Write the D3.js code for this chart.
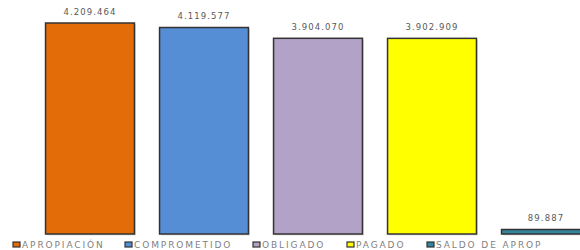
<!DOCTYPE html>
<html>
<head>
<meta charset="utf-8">
<script src="https://cdn.jsdelivr.net/npm/d3@7"></script>
<style>
  body { margin: 0; background: #fff; }
  text { font-family: "DejaVu Sans", Verdana, sans-serif; }
</style>
</head>
<body>
<div id="chart"></div>
<script>
// chart data
var categories = ["APROPIACIÓN", "COMPROMETIDO", "OBLIGADO", "PAGADO", "SALDO DE APROP"];
var values = [4209464, 4119577, 3904070, 3902909, 89887];
var valueLabels = ["4.209.464", "4.119.577", "3.904.070", "3.902.909", "89.887"];
var colors = ["#E36C09", "#558ED5", "#B2A2C7", "#FFFF00", "#31859C"];

var svgWidth = 580;
var svgHeight = 250;

var svg = d3.select("#chart")
  .append("svg")
  .attr("width", svgWidth)
  .attr("height", svgHeight);

// x scale: bars step ~114px, first bar starts at ~45
var xScale = d3.scaleBand()
  .domain(categories)
  .range([33, 603])
  .paddingInner(0.22)
  .paddingOuter(0.11);

var yScale = d3.scaleLinear()
  .domain([0, d3.max(values)])
  .range([234, 23]);

var data = categories.map(function(c, i) {
  return { cat: c, value: values[i], label: valueLabels[i], color: colors[i] };
});

// soft shadow behind bars
svg.append("g").selectAll("rect")
  .data(data)
  .enter()
  .append("rect")
  .attr("x", d => xScale(d.cat) + 1.5)
  .attr("y", d => yScale(d.value) + 1.5)
  .attr("width", xScale.bandwidth())
  .attr("height", d => yScale(0) - yScale(d.value))
  .attr("fill", "#bbb")
  .attr("opacity", 0.5);

// bars
svg.append("g").selectAll("rect")
  .data(data)
  .enter()
  .append("rect")
  .attr("x", d => xScale(d.cat))
  .attr("y", d => yScale(d.value))
  .attr("width", xScale.bandwidth())
  .attr("height", d => yScale(0) - yScale(d.value))
  .attr("fill", d => d.color)
  .attr("stroke", "#333")
  .attr("stroke-width", 1.5);

// value labels
svg.append("g").selectAll("text")
  .data(data)
  .enter()
  .append("text")
  .attr("x", d => xScale(d.cat) + xScale.bandwidth() / 2)
  .attr("y", d => yScale(d.value) - 8.5)
  .attr("text-anchor", "middle")
  .attr("font-size", "8.5px")
  .attr("letter-spacing", "1.1px")
  .attr("fill", "#595959")
  .text(d => d.label);

// legend
var legendX = [13, 125, 253, 347, 427];
var legend = svg.append("g").selectAll("g")
  .data(data)
  .enter()
  .append("g")
  .attr("transform", (d, i) => `translate(${legendX[i]}, 242)`);

legend.append("rect")
  .attr("width", 7)
  .attr("height", 5)
  .attr("fill", d => d.color)
  .attr("stroke", "#333")
  .attr("stroke-width", 1.2);

legend.append("text")
  .attr("x", 9)
  .attr("y", 5.5)
  .attr("font-size", "9px")
  .attr("letter-spacing", "1.9px")
  .attr("fill", "#7f7f7f")
  .text(d => d.cat);
</script>
</body>
</html>
